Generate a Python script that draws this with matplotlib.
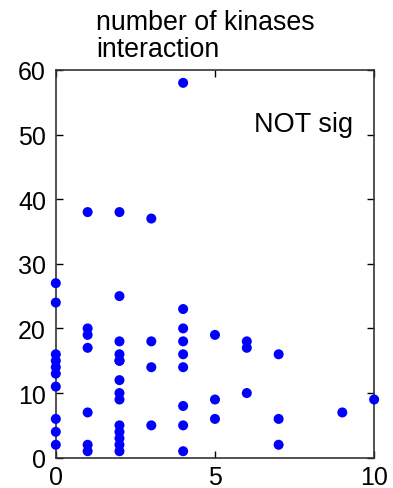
import matplotlib
matplotlib.use("Agg")
import matplotlib.pyplot as plt

plt.rcParams['font.family'] = ['Liberation Sans', 'DejaVu Sans']

# number of kinases vs interaction count
x_vals = [0, 0, 0, 0, 0, 0, 0, 0, 0, 0,
          1, 1, 1, 1, 1, 1, 1,
          2, 2, 2, 2, 2, 2, 2, 2, 2, 2, 2, 2, 2, 2,
          3, 3, 3, 3,
          4, 4, 4, 4, 4, 4, 4, 4, 4,
          5, 5, 5,
          6, 6, 6,
          7, 7, 7,
          9,
          10]
y_vals = [27, 24, 16, 15, 14, 13, 11, 6, 4, 2,
          38, 20, 19, 17, 7, 2, 1,
          38, 25, 18, 16, 15, 15, 12, 10, 9, 5, 4, 3, 2, 1,
          37, 18, 14, 5,
          58, 23, 20, 18, 16, 14, 8, 5, 1,
          19, 9, 6,
          18, 17, 10,
          16, 6, 2,
          7,
          9]

x_ticks = [0, 5, 10]
y_ticks = [0, 10, 20, 30, 40, 50, 60]

fig = plt.figure(figsize=(3.93, 4.89), dpi=100)
ax = fig.add_axes([0.142, 0.062, 0.810, 0.793])

ax.scatter(x_vals, y_vals, s=52, color='#0000ff', edgecolors='none', clip_on=False, zorder=3)

ax.set_xlim(0, 10)
ax.set_ylim(0, 60)
ax.set_xticks(x_ticks)
ax.set_yticks(y_ticks)
ax.tick_params(direction='in', top=True, right=True, labelsize=18, length=5, width=1, pad=7)
ax.tick_params(axis='x', pad=5)
for sp in ax.spines.values():
    sp.set_linewidth(1.2)
    sp.set_color('#333333')

ax.text(0.935, 0.843, "NOT sig", transform=ax.transAxes, ha='right', va='baseline', fontsize=19.5)
fig.text(0.245, 0.980, "number of kinases\ninteraction", ha='left', va='top', fontsize=19.3, linespacing=1.08)

plt.savefig("out.png", dpi=100)
plt.close()
